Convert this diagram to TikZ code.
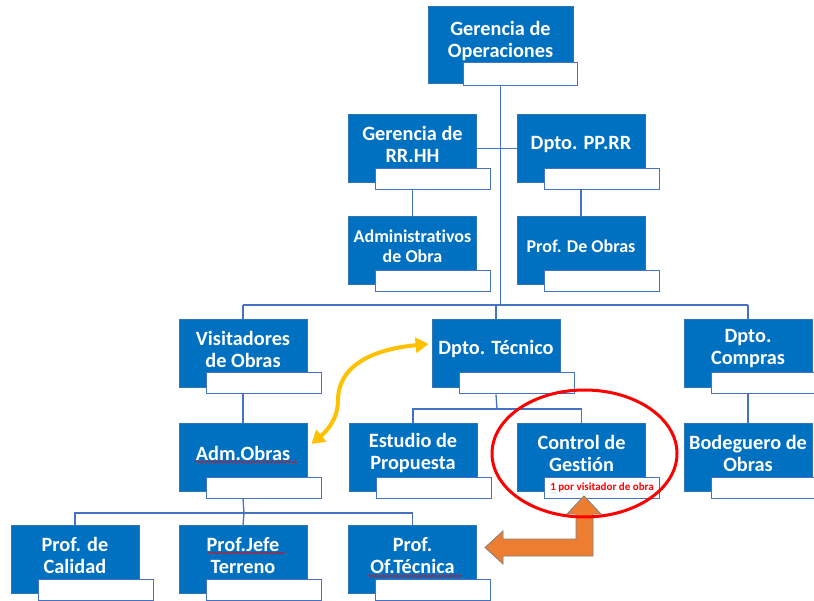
\documentclass[tikz,border=0pt]{standalone}
\usepackage{fontspec}
\setmainfont{Carlito}[Ligatures={NoCommon}]
\usetikzlibrary{arrows.meta,decorations.pathmorphing,backgrounds}
\definecolor{boxblue}{HTML}{0070C0}
\definecolor{edgeblue}{HTML}{2E75B6}
\definecolor{lineblue}{HTML}{4472C4}
\definecolor{arrowyellow}{HTML}{FFC000}
\definecolor{arroworange}{HTML}{ED7D31}
\newcommand{\bigfont}{\bfseries\fontsize{20.3}{22}\selectfont}
\newcommand{\smallfont}{\bfseries\fontsize{18}{19.5}\selectfont}
\tikzset{
  bluebox/.style={fill=boxblue, draw=edgeblue, line width=0.8pt, minimum width=128, minimum height=68, inner sep=0pt},
  whitebox/.style={fill=white, draw=lineblue, line width=1pt, minimum width=115, minimum height=21, inner sep=0pt},
  lbl/.style={text=white, align=center, inner sep=0pt},
  conn/.style={draw=lineblue, line width=1.3pt},
  squiggle/.style={draw=red, line width=0.6pt, decorate, decoration={snake, amplitude=0.9pt, segment length=3.5pt}},
}
\newcommand{\OrgBox}[5][\bigfont]{%
  \node[bluebox] (#2) at (#3,#4) {};
  \node[whitebox] (#2w) at ([shift={(20.5,30.5)}]#2.center) {};
  \node[lbl, font=#1] (#2t) at ([shift={(0,-4)}]#2.center) {#5};
}
\begin{document}
\begin{tikzpicture}[x=1pt, y=-1pt]
\useasboundingbox (0,0) rectangle (814,601);
\begin{scope}[on background layer]
\fill[white] (0,0) rectangle (814,601);
\end{scope}

% connector skeleton coordinates
\coordinate (hub) at (500.5,305);
\coordinate (hubtec) at (497,409);
\coordinate (hubadm) at (244,513);

% ---- boxes ----
\node[bluebox, minimum width=145, minimum height=77] (ops) at (500.5,44.5) {};
\node[whitebox, minimum width=114, minimum height=23] (opsw) at (520,74.5) {};
\node[lbl, font=\bigfont] (opst) at (500.5,41) {Gerencia de\\Operaciones};

\OrgBox{rrhh}{412.5}{148.5}{Gerencia de\\RR.HH}
\OrgBox{pprr}{581}{148.5}{Dpto. PP.RR}
\OrgBox[\smallfont]{admin}{412.5}{250.5}{Administrativos\\de Obra}
\OrgBox[\smallfont]{profobras}{581}{250.5}{Prof. De Obras}

\OrgBox{vis}{243}{353}{Visitadores\\de Obras}
\OrgBox{tec}{496}{353}{Dpto. Técnico}
\OrgBox{comp}{748}{353}{Dpto.\\Compras}

\OrgBox{admo}{243}{457}{Adm.Obras}
\OrgBox{est}{413}{457}{Estudio de\\Propuesta}
\OrgBox{ctrl}{581.5}{457}{Control de\\Gestión}
\OrgBox{bod}{748}{457}{Bodeguero de\\Obras}

\OrgBox{cal}{75}{559.5}{Prof. de\\Calidad}
\OrgBox{jefe}{243}{559.5}{Prof.Jefe\\Terreno}
\OrgBox{oft}{412.5}{559.5}{Prof.\\Of.Técnica}

% ---- connectors (behind the boxes) ----
\begin{scope}[on background layer]
\path[conn] (ops |- opsw.south) -- (hub);
\path[conn] (rrhh.east) -- (pprr.west);
\path[conn] (vis.north |- hub) -- (comp.north |- hub);
\path[conn] (vis.north) -- (vis.north |- hub);
\path[conn] (tec.north) -- (tec.north |- hub);
\path[conn] (comp.north) -- (comp.north |- hub);
\path[conn] (rrhh |- rrhhw.south) -- (admin.north);
\path[conn] (pprr |- pprrw.south) -- (profobras.north);
\path[conn] (vis |- visw.south) -- (admo.north);
\path[conn] (comp |- compw.south) -- (bod.north);
\path[conn] (tec |- tecw.south) -- (hubtec);
\path[conn] (est.north) |- (hubtec) -| (ctrl.north);
\path[conn] (admo |- admow.south) -- (hubadm);
\path[conn] (cal.north) |- (hubadm) -| (oft.north);
\path[conn] (jefe.north) -- (hubadm);
\end{scope}

% note in Control de Gestión
\node[text=red, font=\bfseries\fontsize{11}{12}\selectfont, inner sep=0pt] (note) at (ctrlw.center) {1 por visitador de obra};

% spell-check squiggles
\path[squiggle] (195,462) -- (297,462);
\path[squiggle] (207,553) -- (285,553);
\path[squiggle] (368,576) -- (462,576);

% yellow double arrow
\coordinate (ya) at ([shift={(4,-13)}]admo.east);
\coordinate (yb) at ([shift={(-3,-9)}]tec.west);
\draw[arrowyellow, line width=4pt, {Triangle[length=13pt,width=15pt]}-{Triangle[length=13pt,width=15pt]}]
  (ya) .. controls (328,430) and (338,418) .. (338,400)
       .. controls (338,370) and (365,350) .. (yb);

% orange bent arrow
\filldraw[fill=arroworange, draw=gray, line width=0.8pt, line join=miter]
  (584,496) -- (601,514) -- (593,514) -- (593,556) -- (503,556) -- (503,564)
  -- (485,547.5) -- (503,531) -- (503,539) -- (576,539) -- (576,514) -- (567,514) -- cycle;

% red ellipse
\draw[red, line width=3pt] (584.5,453.5) ellipse [x radius=92.5, y radius=63.5];
\end{tikzpicture}
\end{document}
